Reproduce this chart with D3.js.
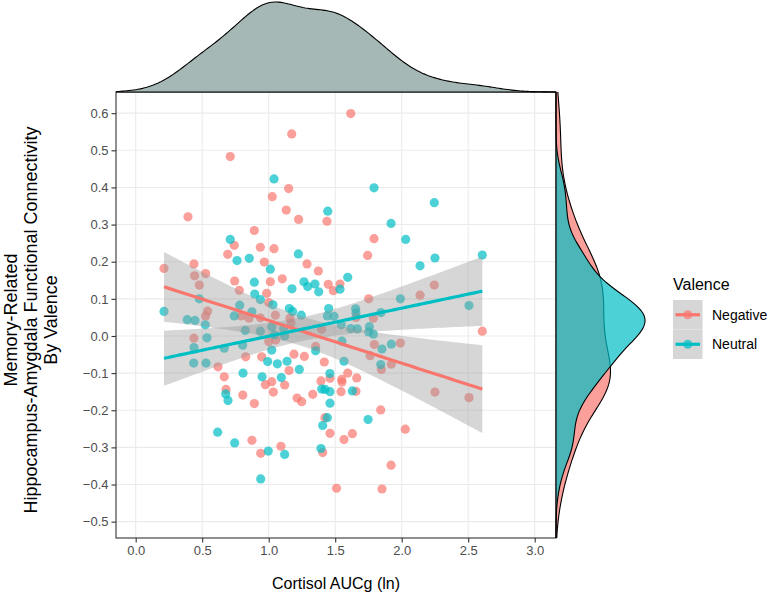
<!DOCTYPE html>
<html><head><meta charset="utf-8">
<script src="https://cdn.jsdelivr.net/npm/d3@7"></script>
<style>body{margin:0;background:#fff}svg{display:block;font-family:"Liberation Sans",Arial,sans-serif}</style>
</head><body><svg id="c" width="771" height="600"></svg>
<script>
const groups = ["Negative", "Neutral"];
const colors = ["#F8766D", "#00BFC4"];
const xTicks = [0.0, 0.5, 1.0, 1.5, 2.0, 2.5, 3.0];
const yTicks = [-0.5, -0.4, -0.3, -0.2, -0.1, 0.0, 0.1, 0.2, 0.3, 0.4, 0.5, 0.6];
const xTitle = "Cortisol AUCg (ln)";
const yTitle = ["Memory-Related", "Hippocampus-Amygdala Functional Connectivity", "By Valence"];
const legendTitle = "Valence";

const negX = [1.173,0.711,1.15,1.027,1.132,1.225,1.438,0.393,0.892,1.617,1.792,0.741,0.692,0.937,1.04,0.967,1.288,1.373,0.438,0.213,0.443,0.526,0.478,0.744,0.779,1.012,1.102,1.448,1.486,0.985,1.0,0.794,0.852,0.937,1.05,1.16,0.541,0.526,0.438,0.619,0.827,1.0,1.053,1.168,0.947,1.19,1.268,1.353,1.418,1.398,1.153,0.666,1.744,1.536,2.245,2.138,1.752,1.656,1.787,2.606,1.794,1.762,1.99,1.847,1.922,1.594,1.662,1.549,1.023,0.975,1.12,0.679,0.805,0.892,1.035,1.213,1.248,1.331,1.393,1.461,1.423,1.461,0.874,0.94,1.092,1.406,1.51,1.551,1.544,1.656,2.25,2.506,1.842,2.027,1.566,1.629,1.92,1.852];
const negY = [0.544,0.483,0.397,0.375,0.339,0.314,0.309,0.321,0.284,0.599,0.262,0.244,0.22,0.239,0.235,0.199,0.194,0.175,0.194,0.182,0.162,0.168,0.137,0.148,0.123,0.146,0.154,0.139,0.122,0.115,0.09,0.054,0.048,0.049,0.056,0.048,0.067,0.054,-0.006,-0.083,-0.056,-0.015,-0.011,0.035,-0.056,-0.049,-0.055,-0.028,-0.07,0.018,-0.093,-0.11,0.217,0.14,0.137,0.11,0.1,0.05,0.048,0.013,-0.023,-0.053,-0.019,-0.09,-0.076,-0.1,-0.113,-0.117,-0.123,-0.131,-0.132,-0.144,-0.159,-0.182,-0.151,-0.167,-0.177,-0.157,-0.121,-0.114,-0.22,-0.262,-0.281,-0.316,-0.297,-0.314,-0.41,-0.124,-0.15,-0.149,-0.151,-0.166,-0.199,-0.251,-0.279,-0.263,-0.348,-0.412];
const neuX = [1.04,1.444,0.711,1.792,2.245,1.92,2.03,0.762,0.854,1.223,1.012,0.892,1.265,1.348,1.175,1.293,1.376,0.895,0.937,1.032,0.478,0.213,0.782,0.741,0.874,1.155,1.18,1.245,1.451,1.441,0.388,0.446,0.523,0.536,0.438,0.436,0.529,0.666,0.804,0.824,0.937,1.023,1.042,1.12,1.113,1.023,0.992,1.065,1.138,1.353,1.46,1.23,0.807,0.95,1.095,2.25,2.138,2.606,1.594,1.536,1.99,2.506,1.491,1.654,1.656,1.844,1.546,1.617,1.667,1.757,1.752,1.787,1.551,1.852,1.922,1.566,1.842,0.677,0.694,1.398,1.423,1.461,1.461,1.441,1.406,0.616,0.744,0.997,1.12,1.393,0.94,1.629,1.747];
const neuY = [0.423,0.336,0.26,0.399,0.359,0.303,0.26,0.203,0.209,0.221,0.18,0.145,0.146,0.14,0.127,0.133,0.119,0.113,0.098,0.084,0.1,0.066,0.083,0.054,0.065,0.074,0.066,0.056,0.074,0.054,0.044,0.042,0.03,-0.005,-0.031,-0.073,-0.073,-0.033,-0.025,0.015,0.013,0.025,0.003,0.0,0.02,-0.038,-0.069,-0.075,-0.068,-0.04,-0.101,-0.09,-0.1,-0.11,-0.112,0.21,0.189,0.218,0.158,0.126,0.1,0.082,0.053,0.073,0.062,0.063,0.03,0.02,0.019,0.025,0.011,0.005,-0.014,-0.035,-0.022,-0.068,-0.077,-0.156,-0.174,-0.143,-0.144,-0.15,-0.181,-0.22,-0.241,-0.259,-0.288,-0.31,-0.319,-0.303,-0.385,-0.148,-0.225];

const seriesX = [negX, neuX], seriesY = [negY, neuY];

const svg = d3.select("#c");
const P = {l:116, r:556, t:92, b:538};
const x = d3.scaleLinear().domain([-0.148, 3.160]).range([P.l, P.r]);
const y = d3.scaleLinear().domain([-0.544, 0.657]).range([P.b, P.t]);

// grid
const g = svg.append("g");
g.append("rect").attr("x",P.l).attr("y",P.t).attr("width",P.r-P.l).attr("height",P.b-P.t).attr("fill","#fff");
g.selectAll(".gx").data(xTicks).join("line").attr("x1",d=>x(d)).attr("x2",d=>x(d)).attr("y1",P.t).attr("y2",P.b).attr("stroke","#ebebeb").attr("stroke-width",1.1);
g.selectAll(".gy").data(yTicks).join("line").attr("y1",d=>y(d)).attr("y2",d=>y(d)).attr("x1",P.l).attr("x2",P.r).attr("stroke","#ebebeb").attr("stroke-width",1.1);

// points
seriesX.forEach((xs,gi)=>{
  g.append("g").selectAll("circle").data(xs.map((v,i)=>[v,seriesY[gi][i]])).join("circle")
   .attr("cx",d=>x(d[0])).attr("cy",d=>y(d[1])).attr("r",4.6).attr("fill",colors[gi]).attr("fill-opacity",0.7);
});

// regression
function fit(xs, ys){
  const n=xs.length, mx=d3.mean(xs), my=d3.mean(ys);
  let sxx=0,sxy=0; xs.forEach((v,i)=>{sxx+=(v-mx)**2; sxy+=(v-mx)*(ys[i]-my);});
  const b=sxy/sxx, a=my-b*mx;
  let sse=0; xs.forEach((v,i)=>{sse+=(ys[i]-a-b*v)**2;});
  const s=Math.sqrt(sse/(n-2)), t=1.986;
  const grid=d3.range(0,81).map(k=>d3.min(xs)+(d3.max(xs)-d3.min(xs))*k/80);
  return grid.map(x0=>{const f=a+b*x0, se=s*Math.sqrt(1/n+(x0-mx)**2/sxx); return {x:x0,f,lo:f-t*se,hi:f+t*se};});
}
const fits = seriesX.map((xs,gi)=>fit(xs,seriesY[gi]));
fits.forEach(f=>{
  g.append("path").datum(f).attr("d",d3.area().x(d=>x(d.x)).y0(d=>y(d.lo)).y1(d=>y(d.hi))).attr("fill","#999999").attr("fill-opacity",0.4);
});
fits.forEach((f,gi)=>{
  g.append("path").datum(f).attr("d",d3.line().x(d=>x(d.x)).y(d=>y(d.f))).attr("fill","none").attr("stroke",colors[gi]).attr("stroke-width",3.2);
});

// panel border
g.append("rect").attr("x",P.l).attr("y",P.t).attr("width",P.r-P.l).attr("height",P.b-P.t).attr("fill","none").attr("stroke","#333").attr("stroke-width",1.1);

// axes
const axX = svg.append("g").attr("transform",`translate(0,${P.b})`).call(d3.axisBottom(x).tickValues(xTicks).tickFormat(d3.format(".1f")).tickSize(4.5).tickPadding(3));
const axY = svg.append("g").attr("transform",`translate(${P.l},0)`).call(d3.axisLeft(y).tickValues(yTicks).tickFormat(d=>d3.format(".1f")(d).replace("-","\u2212")).tickSize(4.5).tickPadding(3));
[axX,axY].forEach(a=>{a.select(".domain").remove(); a.selectAll("line").attr("stroke","#333").attr("stroke-width",1.1); a.selectAll("text").attr("fill","#4d4d4d").attr("font-size",13).attr("font-family","Liberation Sans, Arial");});

// titles
svg.append("text").attr("x",336).attr("y",589).attr("text-anchor","middle").attr("font-size",16).attr("fill","#000").text(xTitle);
const yt = svg.append("g").attr("transform","translate(0,320) rotate(-90)");
yTitle.forEach((t,i)=>yt.append("text").attr("x",0).attr("y",[17,37,57][i]).attr("text-anchor","middle").attr("font-size",18).attr("fill","#000").text(t));

// KDE helpers
function bwNrd0(v){const s=d3.deviation(v); const q=d3.quantile(v.slice().sort(d3.ascending),0.75)-d3.quantile(v.slice().sort(d3.ascending),0.25); return 0.9*Math.min(s,q/1.34)*Math.pow(v.length,-0.2);}
function kde(v,grid,bw){return grid.map(g0=>[g0, d3.mean(v,d=>Math.exp(-0.5*((g0-d)/bw)**2))/(bw*Math.sqrt(2*Math.PI))]);}

// top density
const allX = negX.concat(neuX);
const gx = d3.range(0,201).map(k=>x.domain()[0]+(x.domain()[1]-x.domain()[0])*k/200);
const dTop = kde(allX,gx,bwNrd0(allX)*1.15);
const hTop = d3.scaleLinear().domain([0,d3.max(dTop,d=>d[1])]).range([P.t,2]);
svg.append("path").datum(dTop).attr("d",d3.area().x(d=>x(d[0])).y0(P.t).y1(d=>hTop(d[1]))).attr("fill","#a5b8b5");
svg.append("path").datum(dTop).attr("d",d3.line().x(d=>x(d[0])).y(d=>hTop(d[1]))).attr("fill","none").attr("stroke","#000").attr("stroke-width",1.1);
svg.append("line").attr("x1",P.l).attr("x2",P.r).attr("y1",P.t).attr("y2",P.t).attr("stroke","#000").attr("stroke-width",1.1);

// right densities
const gy = d3.range(0,201).map(k=>y.domain()[0]+(y.domain()[1]-y.domain()[0])*k/200);
const dR = seriesY.map(v=>kde(v,gy,bwNrd0(v)));
const wR = d3.scaleLinear().domain([0,d3.max(dR.flat(),d=>d[1])]).range([P.r,645]);
dR.forEach((dd,gi)=>{
  svg.append("path").datum(dd).attr("d",d3.area().y(d=>y(d[0])).x0(P.r).x1(d=>wR(d[1]))).attr("fill",colors[gi]).attr("fill-opacity",0.7);
  svg.append("path").datum(dd).attr("d",d3.line().y(d=>y(d[0])).x(d=>wR(d[1]))).attr("fill","none").attr("stroke","#000").attr("stroke-width",1.1);
});
svg.append("line").attr("x1",P.r).attr("x2",P.r).attr("y1",P.t).attr("y2",P.b).attr("stroke","#000").attr("stroke-width",1.1);

// legend
const L = svg.append("g").attr("transform","translate(673,0)");
L.append("text").attr("x",0).attr("y",290).attr("font-size",16).attr("fill","#000").text(legendTitle);
groups.forEach((gname,i)=>{
  const yy = 300 + i*29.5;
  L.append("rect").attr("x",0).attr("y",yy).attr("width",29.5).attr("height",29.5).attr("fill","#d6d6d6");
  L.append("line").attr("x1",2.5).attr("x2",27).attr("y1",yy+14.75).attr("y2",yy+14.75).attr("stroke",colors[i]).attr("stroke-width",3.2);
  L.append("circle").attr("cx",14.75).attr("cy",yy+14.75).attr("r",4.6).attr("fill",colors[i]).attr("fill-opacity",0.7);
  L.append("text").attr("x",39).attr("y",yy+19.5).attr("font-size",14).attr("fill","#000").text(gname);
});
</script></body></html>
